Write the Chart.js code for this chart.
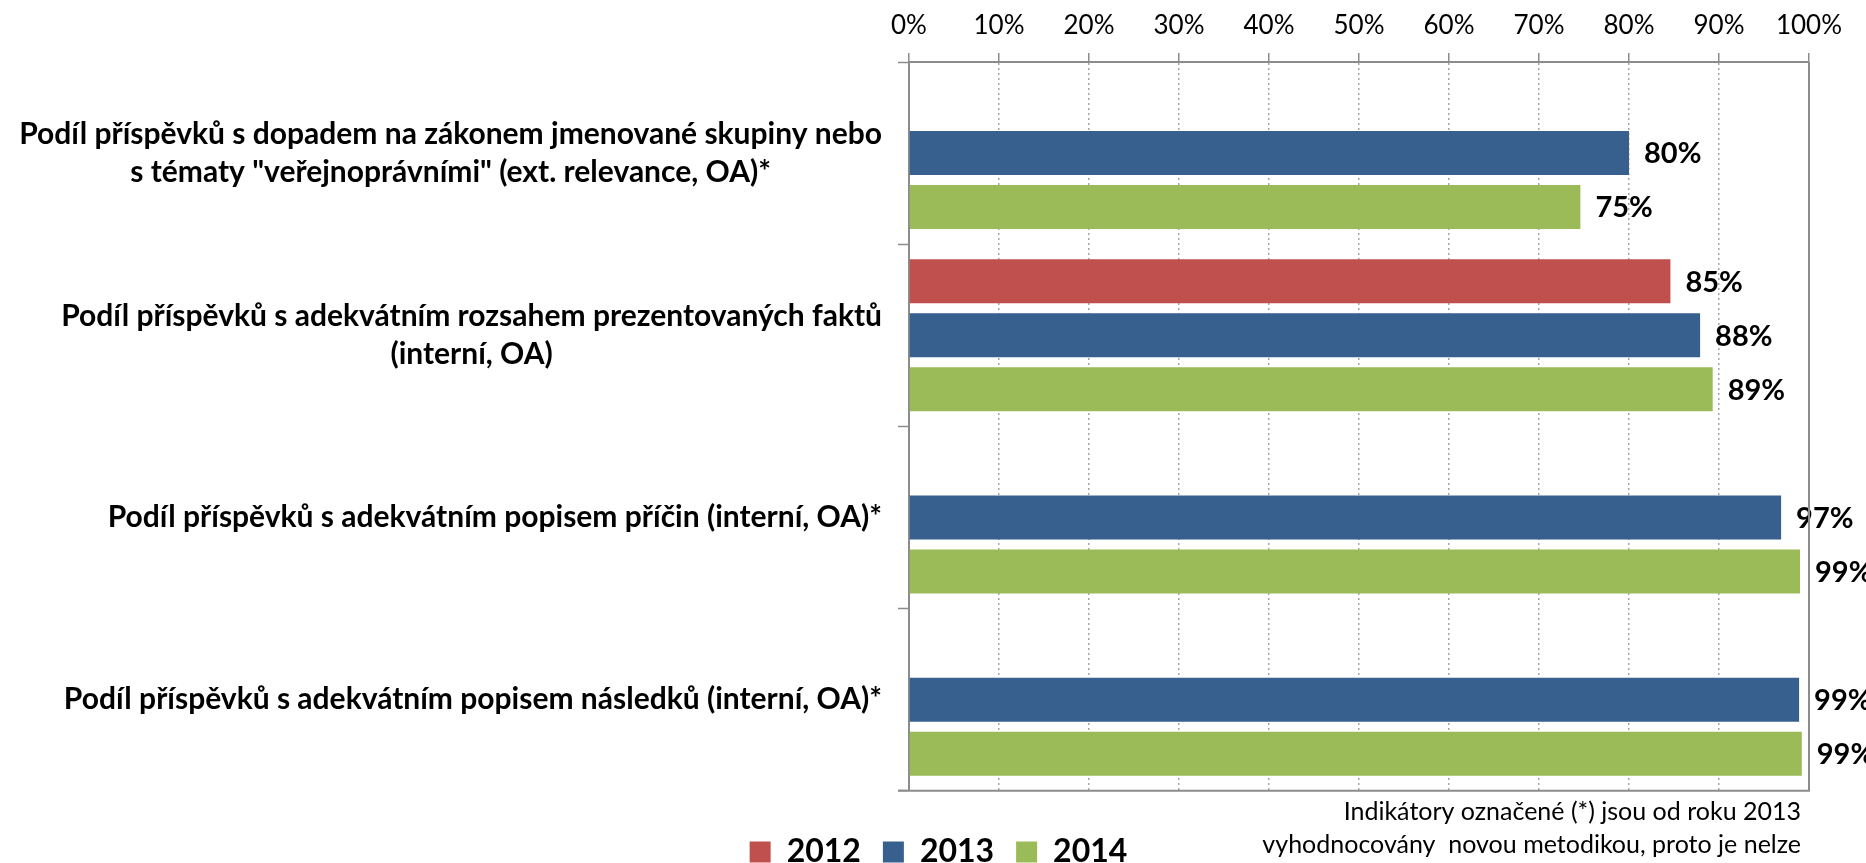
<!DOCTYPE html>
<html>
<head>
<meta charset="utf-8">
<script src="https://cdn.jsdelivr.net/npm/chart.js@4/dist/chart.umd.min.js"></script>
<style>
  html, body { margin: 0; padding: 0; background: #fff; overflow: hidden; }
  #wrap { width: 1866px; height: 878px; position: relative; }
</style>
</head>
<body>
<div id="wrap"><canvas id="chartIndicators"></canvas></div>
<script>
// categories (each label split into its lines)
const categories = [
  ['Podíl příspěvků s dopadem na zákonem jmenované skupiny nebo', 's tématy "veřejnoprávními" (ext. relevance, OA)*'],
  ['Podíl příspěvků s adekvátním rozsahem prezentovaných faktů', '(interní, OA)'],
  ['Podíl příspěvků s adekvátním popisem příčin (interní, OA)*'],
  ['Podíl příspěvků s adekvátním popisem následků (interní, OA)*']
];
const years = ['2012', '2013', '2014'];
const values2012 = [null, 84.6, null, null];
const values2013 = [80.0, 87.9, 96.9, 98.9];
const values2014 = [74.6, 89.3, 99.0, 99.2];
const xTicks = [0, 10, 20, 30, 40, 50, 60, 70, 80, 90, 100];
const noteLines = [
  'Indikátory označené (*) jsou od roku 2013',
  'vyhodnocovány  novou metodikou, proto je nelze'
];

const colors = { red: '#C0504D', blue: '#37608F', green: '#9BBB59' };
const frameColor = '#8c8c8c';

Chart.defaults.font.family = 'Lato, "Open Sans", sans-serif';
Chart.defaults.color = '#000';

// value labels at bar ends
const barLabels = {
  id: 'barLabels',
  afterDatasetsDraw(chart) {
    const ctx = chart.ctx;
    ctx.save();
    ctx.font = 'bold 29px Lato';
    ctx.fillStyle = '#000';
    ctx.textAlign = 'left';
    ctx.textBaseline = 'middle';
    chart.data.datasets.forEach((ds, i) => {
      chart.getDatasetMeta(i).data.forEach((bar, j) => {
        const v = ds.data[j];
        if (v === null || v === undefined) return;
        ctx.fillText(Math.round(v) + '%', bar.x + 15, bar.y + 1);
      });
    });
    ctx.restore();
  }
};

// category labels: block right aligned, lines centered inside block
const categoryLabels = {
  id: 'categoryLabels',
  afterDraw(chart) {
    const ctx = chart.ctx;
    const yScale = chart.scales.y;
    const rightEdge = 882;
    const lineH = 38;
    ctx.save();
    ctx.font = 'bold 30px Lato';
    ctx.fillStyle = '#000';
    ctx.textAlign = 'center';
    ctx.textBaseline = 'middle';
    categories.forEach((lines, i) => {
      const yc = yScale.getPixelForValue(i);
      const w = Math.max(...lines.map(l => ctx.measureText(l).width));
      const xc = rightEdge - w / 2;
      const y0 = yc - (lines.length - 1) * lineH / 2;
      lines.forEach((l, k) => ctx.fillText(l, xc, y0 + k * lineH));
    });
    ctx.restore();
  }
};

// right and bottom edges of the plot frame + note text
const frameAndNote = {
  id: 'frameAndNote',
  afterDraw(chart) {
    const ctx = chart.ctx;
    const a = chart.chartArea;
    ctx.save();
    ctx.strokeStyle = frameColor;
    ctx.lineWidth = 2;
    ctx.beginPath();
    ctx.moveTo(a.right, a.top);
    ctx.lineTo(a.right, a.bottom);
    ctx.lineTo(a.left - 11, a.bottom);
    ctx.stroke();
    ctx.font = '25px Lato';
    ctx.fillStyle = '#000';
    ctx.textAlign = 'right';
    ctx.textBaseline = 'middle';
    noteLines.forEach((t, k) => ctx.fillText(t, a.right - 8, 812 + k * 33));
    ctx.restore();
  }
};

const config = {
  type: 'bar',
  data: {
    labels: categories.map(c => c.join(' ')),
    datasets: [
      { label: years[0], data: values2012, backgroundColor: colors.red, borderWidth: 0 },
      { label: years[1], data: values2013, backgroundColor: colors.blue, borderWidth: 0 },
      { label: years[2], data: values2014, backgroundColor: colors.green, borderWidth: 0 }
    ]
  },
  options: {
    indexAxis: 'y',
    responsive: true,
    maintainAspectRatio: false,
    animation: false,
    datasets: { bar: { categoryPercentage: 0.889, barPercentage: 0.815 } },
    layout: { padding: { left: 68, right: 57, top: 0, bottom: 0 } },
    scales: {
      x: {
        position: 'top',
        min: 0,
        max: 100,
        afterBuildTicks(scale) { scale.ticks = xTicks.map(v => ({ value: v })); },
        afterFit(scale) { scale.height = 62; },
        ticks: {
          font: { size: 26 },
          padding: 12,
          callback: v => v + '%'
        },
        grid: {
          color: c => (c.tick && (c.tick.value === 0 || c.tick.value === 100)) ? 'rgba(0,0,0,0)' : '#a6a6a6',
          lineWidth: 1.5,
          tickLength: 9,
          tickColor: frameColor,
          tickWidth: 1.5,
          tickBorderDash: []
        },
        border: { display: true, color: frameColor, width: 2, dash: [2, 3] }
      },
      y: {
        afterFit(scale) { scale.width = 909 - 68; },
        ticks: { display: false },
        grid: {
          offset: true,
          drawOnChartArea: false,
          tickLength: 11,
          tickColor: frameColor,
          tickWidth: 1.5
        },
        border: { display: true, color: frameColor, width: 2 }
      }
    },
    plugins: {
      legend: {
        position: 'bottom',
        title: { display: true, text: '', font: { size: 1 }, padding: { top: 22, bottom: 0 } },
        labels: {
          boxWidth: 21,
          boxHeight: 21,
          padding: 22,
          font: { size: 32, weight: 'bold' },
          color: '#000'
        }
      },
      tooltip: { enabled: false }
    }
  },
  plugins: [barLabels, categoryLabels, frameAndNote]
};

const ctxIndicators = document.getElementById('chartIndicators').getContext('2d');
window.indicatorChart = new Chart(ctxIndicators, config);
</script>
</body>
</html>
